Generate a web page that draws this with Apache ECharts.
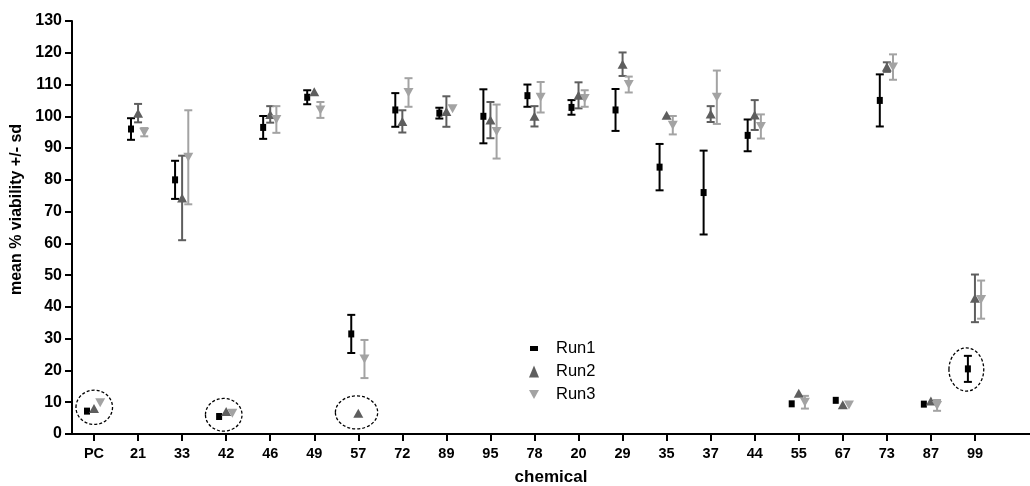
<!DOCTYPE html>
<html>
<head>
<meta charset="utf-8">
<script src="https://cdn.jsdelivr.net/npm/echarts@6/dist/echarts.min.js"></script>
<style>
  html, body { margin: 0; padding: 0; background: #fff; }
  #chart { width: 1030px; height: 486px; }
</style>
</head>
<body>
<div id="chart"></div>
<script>
var categories = ['PC', '21', '33', '42', '46', '49', '57', '72', '89', '95', '78', '20', '29', '35', '37', '44', '55', '67', '73', '87', '99'];

var run1Mean = [7.2, 96, 80, 5.5, 96.5, 106, 31.5, 102, 101, 100, 106.5, 102.8, 102, 84, 76, 94, 9.5, 10.6, 105, 9.4, 20.5];
var run1Sd   = [0, 3.4, 6, 0, 3.6, 2.2, 6, 5.3, 1.7, 8.5, 3.5, 2.3, 6.6, 7.3, 13.2, 5, 0, 0, 8.2, 0, 4.1];

var run2Mean = [8, 101, 74.3, 7.1, 100.6, 107.7, 6.5, 98.4, 101.5, 98.8, 100, 106.6, 116.4, 100.3, 100.7, 100.4, 12.8, 9.2, 115.5, 10.4, 42.7];
var run2Sd   = [0, 2.9, 13.3, 0, 2.6, 0, 0, 3.5, 4.8, 5.7, 3.2, 4.1, 3.7, 0, 2.5, 4.7, 0, 0, 1.5, 0, 7.5];

var run3Mean = [9.8, 95, 87.1, 6.5, 99, 102, 23.6, 107.5, 102.4, 95.2, 106, 105.6, 110, 97.2, 106, 96.8, 10, 9.1, 115.5, 9, 42.3];
var run3Sd   = [0, 1.3, 14.8, 0, 4.2, 2.5, 6, 4.5, 0, 8.5, 4.8, 2.6, 2.5, 2.9, 8.4, 3.8, 2, 0, 4, 1.7, 6];

// circled points: [xFrom, xTo, yFrom, yTo] in data units
var rings = [
    [-0.41, 0.42, 3.0, 13.8],
    [2.53, 3.36, 0.9, 11.2],
    [5.48, 6.44, 1.6, 12.0],
    [19.41, 20.20, 13.5, 27.1]
];

var yTicks = [0, 10, 20, 30, 40, 50, 60, 70, 80, 90, 100, 110, 120, 130];

var runs = [
    { name: 'Run1', mean: run1Mean, sd: run1Sd, off: -0.16, color: '#000000', symbol: 'rect', size: [6, 7] },
    { name: 'Run2', mean: run2Mean, sd: run2Sd, off: 0, color: '#5e5e5e', symbol: 'triangle', size: [10, 9] },
    { name: 'Run3', mean: run3Mean, sd: run3Sd, off: 0.14, color: '#a3a3a3', symbol: 'path://M0,0 L10,0 L5,9 Z', size: [10, 9] }
];

var font = 'Liberation Sans, Arial, sans-serif';
var chart = echarts.init(document.getElementById('chart'));

var series = [];

// dashed rings
series.push({
    type: 'custom',
    silent: true,
    z: 1,
    data: rings,
    renderItem: function (params, api) {
        var a = api.coord([api.value(0), api.value(2)]);
        var b = api.coord([api.value(1), api.value(3)]);
        return {
            type: 'ellipse',
            shape: { cx: (a[0] + b[0]) / 2, cy: (a[1] + b[1]) / 2, rx: Math.abs(b[0] - a[0]) / 2, ry: Math.abs(b[1] - a[1]) / 2 },
            style: { fill: 'none', stroke: '#000', lineWidth: 1.3, lineDash: [3, 2] }
        };
    }
});

runs.forEach(function (r) {
    var bars = [];
    var pts = [];
    for (var i = 0; i < categories.length; i++) {
        pts.push([i + r.off, r.mean[i]]);
        if (r.sd[i] > 0) bars.push([i + r.off, r.mean[i] - r.sd[i], r.mean[i] + r.sd[i]]);
    }
    series.push({
        type: 'custom',
        name: r.name + ' sd',
        silent: true,
        z: 2,
        data: bars,
        renderItem: function (params, api) {
            var lo = api.coord([api.value(0), api.value(1)]);
            var hi = api.coord([api.value(0), api.value(2)]);
            var w = 4;
            var st = { stroke: r.color, lineWidth: 2 };
            return {
                type: 'group',
                children: [
                    { type: 'line', shape: { x1: lo[0], y1: lo[1], x2: hi[0], y2: hi[1] }, style: st },
                    { type: 'line', shape: { x1: lo[0] - w, y1: lo[1], x2: lo[0] + w, y2: lo[1] }, style: st },
                    { type: 'line', shape: { x1: hi[0] - w, y1: hi[1], x2: hi[0] + w, y2: hi[1] }, style: st }
                ]
            };
        }
    });
    series.push({
        type: 'scatter',
        name: r.name,
        z: 3,
        symbol: r.symbol,
        symbolSize: r.size,
        itemStyle: { color: r.color, opacity: 1 },
        data: pts
    });
});

chart.setOption({
    animation: false,
    grid: { left: 72, top: 21, right: 0, bottom: 52, outerBoundsMode: 'none' },
    legend: {
        orient: 'vertical',
        left: 524,
        top: 335,
        itemGap: 6,
        itemWidth: 10,
        itemHeight: 12,
        data: [
            { name: 'Run1', icon: 'path://M0,0 M10,12 M1,3.5 L9,3.5 L9,8.5 L1,8.5 Z', itemStyle: { color: '#000' } },
            { name: 'Run2', icon: 'triangle', itemStyle: { color: '#5e5e5e' } },
            { name: 'Run3', icon: 'path://M0,0 L10,0 L5,9 Z', itemStyle: { color: '#a3a3a3' } }
        ],
        textStyle: { fontFamily: font, fontSize: 16.5, color: '#000', padding: [0, 0, 0, 12] }
    },
    xAxis: {
        type: 'value',
        min: -0.5,
        max: 21.25,
        name: 'chemical',
        nameLocation: 'middle',
        nameGap: 35,
        nameTextStyle: { fontFamily: font, fontSize: 17, fontWeight: 'bold', color: '#000' },
        axisLine: { onZero: false, lineStyle: { color: '#000', width: 2 } },
        axisTick: { show: true, length: 7, lineStyle: { color: '#000', width: 2 }, customValues: categories.map(function (c, i) { return i; }) },
        axisLabel: {
            margin: 12,
            fontFamily: font, fontSize: 14.5, fontWeight: 'bold', color: '#000',
            customValues: categories.map(function (c, i) { return i; }),
            formatter: function (v) { return categories[Math.round(v)]; }
        },
        splitLine: { show: false }
    },
    yAxis: {
        type: 'value',
        min: 0,
        max: 130,
        interval: 10,
        name: 'mean % viability +/- sd',
        nameLocation: 'middle',
        nameGap: 45,
        nameTextStyle: { fontFamily: font, fontSize: 16, fontWeight: 'bold', color: '#000', padding: [0, 0, 0, 36] },
        axisLine: { show: true, onZero: false, lineStyle: { color: '#000', width: 2 } },
        axisTick: { show: true, length: 7, lineStyle: { color: '#000', width: 2 }, customValues: yTicks },
        axisLabel: { margin: 10, fontFamily: font, fontSize: 16, fontWeight: 'bold', color: '#000' },
        splitLine: { show: false }
    },
    series: series
});
</script>
</body>
</html>
